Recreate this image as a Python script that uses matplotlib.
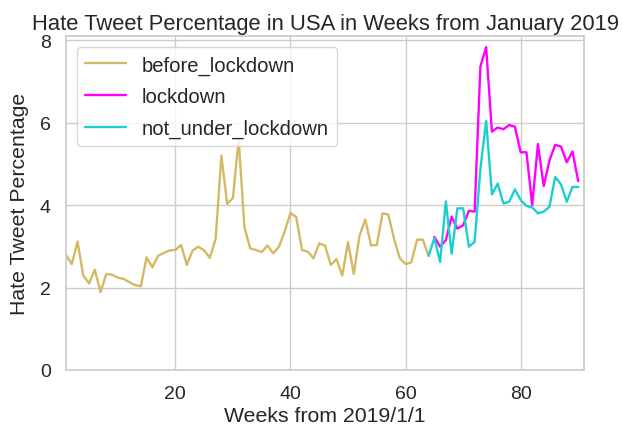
import matplotlib
matplotlib.use("Agg")
import matplotlib.pyplot as plt
import seaborn as sns

sns.set_theme(style="whitegrid")
plt.rcParams['font.family'] = ['Liberation Sans', 'DejaVu Sans']

# Weekly hate tweet percentage, weeks counted from 2019/1/1
before_weeks = list(range(1, 65))
before_lockdown = [
    2.79, 2.57, 3.11, 2.29, 2.10, 2.43, 1.89, 2.33, 2.31, 2.24,
    2.21, 2.13, 2.06, 2.03, 2.73, 2.49, 2.77, 2.84, 2.90, 2.91,
    3.03, 2.55, 2.90, 2.99, 2.90, 2.72, 3.18, 5.20, 4.03, 4.17,
    5.59, 3.46, 2.95, 2.91, 2.86, 3.02, 2.83, 2.99, 3.36, 3.81,
    3.71, 2.91, 2.87, 2.71, 3.07, 3.02, 2.55, 2.69, 2.29, 3.10,
    2.33, 3.26, 3.65, 3.02, 3.03, 3.80, 3.77, 3.18, 2.71, 2.57,
    2.61, 3.16, 3.16, 2.77,
]

lockdown_weeks = list(range(65, 91))
lockdown = [
    3.23, 2.99, 3.15, 3.72, 3.43, 3.51, 3.86, 3.84, 7.36, 7.83,
    5.78, 5.88, 5.84, 5.94, 5.90, 5.28, 5.28, 4.00, 5.48, 4.46,
    5.08, 5.46, 5.42, 5.04, 5.30, 4.58,
]

not_lockdown_weeks = list(range(64, 91))
not_under_lockdown = [
    2.77, 3.20, 2.62, 4.09, 2.82, 3.92, 3.92, 2.99, 3.11, 4.88,
    6.04, 4.26, 4.52, 4.04, 4.08, 4.38, 4.12, 3.98, 3.94, 3.80,
    3.84, 3.96, 4.68, 4.50, 4.08, 4.44, 4.44,
]

fig = plt.figure(figsize=(6.22, 4.31), dpi=100)
ax = fig.add_axes([66 / 622, 1 - 371 / 431, (584 - 66) / 622, (371 - 37) / 431])

ax.plot(before_weeks, before_lockdown, color="#d3b964", lw=1.7, label="before_lockdown")
ax.plot(lockdown_weeks, lockdown, color="#ff00ff", lw=1.7, label="lockdown")
ax.plot(not_lockdown_weeks, not_under_lockdown, color="#1ccfcf", lw=1.7, label="not_under_lockdown")

ax.set_xlim(1, 91)
ax.set_ylim(0, 8.1)
ax.set_xticks([20, 40, 60, 80])
ax.set_yticks([0, 2, 4, 6, 8])
ax.tick_params(labelsize=14, pad=5)
for s in ax.spines.values():
    s.set_color("#cccccc")

ax.set_title("Hate Tweet Percentage in USA in Weeks from January 2019", fontsize=15.8, pad=5)
ax.set_xlabel("Weeks from 2019/1/1", fontsize=15.3, labelpad=3)
ax.set_ylabel("Hate Tweet Percentage", fontsize=15.3, labelpad=8)

ax.legend(loc="upper left", fontsize=14.6, frameon=True, handlelength=2.0,
          labelspacing=0.62, borderaxespad=0.55)

fig.savefig("out.png", dpi=100)
